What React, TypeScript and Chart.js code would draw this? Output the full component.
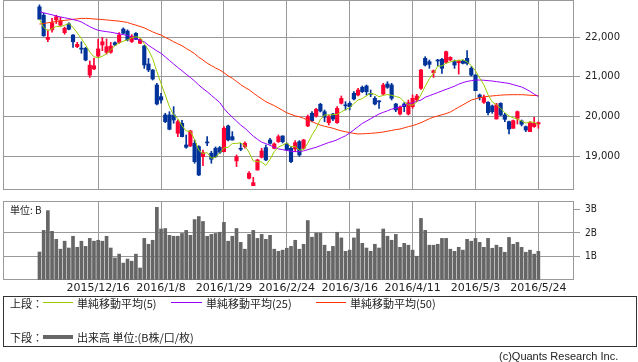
import React, { useEffect, useRef } from 'react';
import { Chart, registerables } from 'chart.js';

Chart.register(...registerables);

// ---- data ----
const tickIndex = [14, 29, 44, 59, 74, 89, 104, 119];
const tickLabels = ['2015/12/16', '2016/1/8', '2016/1/29', '2016/2/24', '2016/3/16', '2016/4/11', '2016/5/3', '2016/5/24'];
const priceTicks = [19000, 20000, 21000, 22000];
const volumeTicks = [0, 1, 2, 3];

const opens = [22760, 22550, 21940, 22180, 22430, 22300, 22110, 22330, 22050, 21756, 21710, 21715, 21040, 21195, 21520, 21800, 21615, 21615, 21857, 21866,
  22200, 22150, 21885, 22093, 21841, 21773, 21320, 21168, 20790, 20496, 20034, 20034, 20034, 19573, 19825, 19278, 19253, 19321, 19236, 18984,
  19345, 19070, 19195, 19211, 19110, 19757, 19488, 18875, 19185, 19236, 18440, 18253, 18648, 18968, 19211, 19404, 19195, 19362, 19505, 19304,
  19195, 19178, 19362, 19195, 19757, 20077, 20009, 20304, 20118, 19841, 20059, 19841, 20328, 20280, 20328, 20580, 20538, 20731, 20765, 20570,
  20454, 20380, 20563, 20815, 20790, 20311, 20059, 20311, 20059, 20244, 20412, 20706, 21462, 21378, 21101, 21410, 21437, 21361, 21420, 21378,
  21353, 21395, 21462, 21210, 21042, 20538, 20353, 20353, 20261, 19933, 20328, 20034, 19866, 19698, 19950, 19883, 19740, 19614, 19740, 19808];
const highs = [22810, 22600, 22180, 22470, 22550, 22500, 22250, 22360, 22060, 21866, 21880, 21740, 21395, 21460, 21950, 21990, 21950, 21865, 21880, 22110,
  22230, 22180, 22060, 22110, 21960, 21790, 21460, 21180, 20830, 20580, 20077, 20118, 20244, 19908, 19900, 19530, 19650, 19404, 19260, 19152,
  19488, 19120, 19230, 19240, 19740, 19780, 19614, 19026, 19321, 19360, 18606, 18464, 18918, 19195, 19278, 19447, 19330, 19530, 19510, 19330,
  19236, 19388, 19388, 19420, 20034, 20118, 20203, 20329, 20160, 20034, 20076, 20244, 20513, 20370, 20370, 20622, 20706, 20765, 20790, 20664,
  20496, 20395, 20832, 20874, 20832, 20328, 20261, 20345, 20412, 20538, 20555, 21185, 21504, 21420, 21168, 21437, 21462, 21647, 21504, 21420,
  21420, 21420, 21655, 21252, 21050, 20563, 20538, 20370, 20286, 20328, 20345, 20076, 19883, 19908, 20135, 19908, 19757, 19866, 19975, 19860];
const lows = [22440, 22020, 21880, 22120, 22340, 22280, 22070, 22180, 21740, 21730, 21590, 21400, 20980, 21175, 21495, 21655, 21570, 21590, 21782, 21840,
  22080, 21900, 21860, 21930, 21830, 21210, 21125, 20915, 20285, 20330, 19840, 19660, 19825, 19488, 19480, 19195, 19240, 18817, 18505, 18757,
  19261, 18817, 18960, 19060, 19100, 19380, 19400, 18732, 19135, 19200, 18422, 18250, 18640, 18950, 18880, 19300, 19180, 19340, 19330, 19135,
  18833, 19110, 18990, 19180, 19740, 19860, 19980, 20110, 19866, 19782, 19891, 19824, 20311, 20160, 20160, 20412, 20513, 20597, 20538, 20496,
  20286, 20202, 20538, 20706, 20412, 20118, 20034, 20118, 20034, 20202, 20370, 20681, 21269, 21210, 20983, 21269, 21084, 21336, 21403, 21210,
  21067, 21320, 21294, 21017, 20647, 20412, 20328, 20034, 20076, 19933, 20020, 19866, 19555, 19698, 19807, 19757, 19614, 19614, 19723, 19700];
const closes = [22450, 22030, 21990, 22360, 22510, 22410, 22220, 22195, 21880, 21816, 21695, 21420, 21290, 21275, 21700, 21880, 21755, 21770, 21800, 22050,
  22095, 21930, 22020, 21942, 21940, 21295, 21170, 20942, 20312, 20412, 19866, 19674, 19908, 19866, 19488, 19220, 19631, 18858, 18522, 19084,
  19330, 18918, 18984, 19094, 19699, 19404, 19404, 18984, 19170, 19321, 18565, 18328, 18900, 19127, 18900, 19321, 19304, 19488, 19362, 19152,
  18858, 19337, 19026, 19404, 19992, 19891, 20178, 20135, 19976, 19992, 19933, 20202, 20454, 20265, 20244, 20437, 20664, 20622, 20622, 20555,
  20311, 20365, 20790, 20731, 20454, 20160, 20227, 20244, 20345, 20454, 20513, 21168, 21294, 21311, 21151, 21395, 21210, 21630, 21487, 21294,
  21395, 21336, 21336, 21042, 20647, 20479, 20471, 20093, 20118, 20290, 20034, 19925, 19681, 19891, 20118, 19799, 19656, 19841, 19824, 19841];
const ma25 = [22640, 22610, 22585, 22560, 22530, 22505, 22485, 22465, 22440, 22415, 22380, 22320, 22260, 22210, 22170, 22150, 22135, 22120, 22100, 22080,
  22060, 22040, 22000, 21960, 21910, 21880, 21790, 21720, 21650, 21590, 21500, 21410, 21320, 21230, 21150, 21060, 20980, 20890, 20790, 20700,
  20620, 20530, 20440, 20350, 20200, 20080, 19980, 19880, 19780, 19700, 19600, 19500, 19420, 19350, 19310, 19270, 19220, 19180, 19160, 19140,
  19120, 19110, 19110, 19130, 19160, 19190, 19220, 19260, 19300, 19340, 19370, 19410, 19460, 19510, 19580, 19660, 19740, 19820, 19880, 19940,
  20000, 20060, 20100, 20140, 20180, 20210, 20240, 20280, 20310, 20340, 20380, 20410, 20480, 20520, 20560, 20600, 20640, 20680, 20720, 20760,
  20810, 20850, 20880, 20900, 20915, 20915, 20910, 20900, 20890, 20875, 20860, 20845, 20830, 20800, 20770, 20740, 20690, 20630, 20560, 20500];
const ma50 = [22327, 22340, 22358, 22375, 22392, 22405, 22418, 22432, 22445, 22458, 22468, 22470, 22465, 22455, 22448, 22440, 22430, 22420, 22410, 22400,
  22385, 22365, 22330, 22300, 22265, 22230, 22180, 22130, 22085, 22050, 21990, 21940, 21880, 21830, 21780, 21710, 21650, 21580, 21490, 21420,
  21340, 21280, 21220, 21168, 21100, 21020, 20960, 20880, 20800, 20730, 20670, 20590, 20510, 20440, 20370, 20320, 20270, 20210, 20150, 20090,
  20050, 20010, 19990, 19950, 19910, 19870, 19820, 19780, 19750, 19725, 19700, 19665, 19635, 19610, 19590, 19570, 19555, 19560, 19565, 19572,
  19580, 19590, 19605, 19625, 19645, 19665, 19680, 19710, 19740, 19765, 19800, 19840, 19890, 19940, 19980, 20010, 20040, 20070, 20110, 20170,
  20230, 20290, 20350, 20410, 20440, 20470, 20490, 20505, 20515, 20525, 20535, 20540, 20545, 20546, 20546, 20546, 20540, 20532, 20526, 20521];
const volumes = [1.19, 2.11, 2.95, 2.07, 1.73, 1.31, 1.65, 1.36, 1.86, 1.39, 1.65, 1.43, 1.77, 1.65, 1.69, 1.65, 1.86, 1.36, 0.94, 1.10,
  0.72, 0.89, 0.80, 1.10, 0.51, 1.77, 1.52, 1.69, 3.09, 2.17, 2.19, 1.90, 1.86, 1.86, 1.98, 2.11, 1.90, 2.57, 2.70, 2.49,
  1.86, 1.94, 1.98, 2.03, 2.45, 1.65, 1.86, 2.19, 1.60, 1.31, 1.94, 2.11, 1.77, 1.94, 1.73, 1.90, 1.31, 1.22, 1.27, 1.35,
  1.43, 1.69, 1.31, 1.52, 2.53, 1.82, 2.00, 2.00, 1.48, 1.22, 1.43, 2.03, 1.79, 1.22, 1.27, 1.79, 2.17, 1.56, 1.36, 1.22,
  1.52, 1.36, 2.17, 1.86, 1.69, 1.94, 1.39, 1.56, 1.48, 1.27, 1.01, 2.62, 2.11, 1.48, 1.48, 1.52, 1.77, 1.77, 1.31, 1.22,
  1.39, 1.27, 1.73, 1.65, 1.77, 1.60, 1.39, 1.77, 1.35, 1.48, 1.39, 1.18, 1.81, 1.52, 1.60, 1.39, 1.18, 1.27, 1.10, 1.22];

const ma5 = closes.map((_, i) => {
  const w = closes.slice(Math.max(0, i - 4), i + 1);
  return w.reduce((a, b) => a + b, 0) / w.length;
});

// ---- style ----
const X_MIN = -8.7;
const X_MAX = 127.5;
const UP = '#ff0033';
const DOWN = '#003399';
const GRID = '#999999';
const TEXT = '#222222';

const framePlugin = {
  id: 'frame',
  beforeDatasetsDraw(chart: any) {
    const { ctx, chartArea } = chart;
    const l = Math.round(chartArea.left) + 0.5;
    const t = Math.round(chartArea.top) + 0.5;
    const r = Math.round(chartArea.right) - 0.5;
    const b = Math.round(chartArea.bottom) - 0.5;
    ctx.save();
    ctx.strokeStyle = GRID;
    ctx.lineWidth = 1;
    ctx.strokeRect(l, t, r - l, b - t);
    ctx.restore();
  },
};

const zeroPad = (s: any) => {
  s.paddingTop = 0; s.paddingBottom = 0; s.paddingLeft = 0; s.paddingRight = 0;
};
const fixX = (s: any) => { s.min = X_MIN; s.max = X_MAX; };

export default function App() {
  const topRef = useRef<HTMLCanvasElement>(null);
  const volRef = useRef<HTMLCanvasElement>(null);

  useEffect(() => {
    const idx = closes.map((_, i) => i);
    const colors = idx.map((i) => (closes[i] >= opens[i] ? UP : DOWN));
    const xGrid = (s: any) => { s.ticks = tickIndex.map((v) => ({ value: v })); };

    const top = new Chart(topRef.current as HTMLCanvasElement, {
      type: 'bar',
      data: {
        datasets: [
          { type: 'line', data: idx.map((i) => ({ x: i, y: ma5[i] })), borderColor: '#99cc00', borderWidth: 1, pointRadius: 0, tension: 0, order: 0 } as any,
          { type: 'line', data: idx.map((i) => ({ x: i, y: ma25[i] })), borderColor: '#9900ff', borderWidth: 1, pointRadius: 0, tension: 0, order: 0 } as any,
          { type: 'line', data: idx.map((i) => ({ x: i, y: ma50[i] })), borderColor: '#ff3300', borderWidth: 1, pointRadius: 0, tension: 0, order: 0 } as any,
          { type: 'bar', data: idx.map((i) => ({ x: i, y: [lows[i], highs[i]] })), backgroundColor: colors, barThickness: 1, grouped: false, order: 2 } as any,
          { type: 'bar', data: idx.map((i) => ({ x: i, y: [opens[i], closes[i]] })), backgroundColor: colors, barThickness: 3.5, minBarLength: 1, grouped: false, order: 1 } as any,
        ],
      },
      options: {
        animation: false,
        responsive: false,
        maintainAspectRatio: false,
        layout: { padding: { left: 3, top: 0, right: 0, bottom: 2 } },
        plugins: { legend: { display: false }, tooltip: { enabled: false } },
        scales: {
          x: {
            type: 'linear', min: X_MIN, max: X_MAX, offset: false, bounds: 'data',
            grid: { color: GRID, drawTicks: false, offset: false },
            border: { display: false },
            ticks: { display: false },
            afterDataLimits: fixX,
            afterBuildTicks: (s: any) => { xGrid(s); fixX(s); },
            afterFit: (s: any) => { s.height = 0; zeroPad(s); },
          },
          y: {
            position: 'right', min: 18143, max: 22933,
            grid: { color: GRID, tickLength: 6 },
            border: { display: false },
            ticks: {
              color: TEXT, padding: 5,
              font: { family: 'DejaVu Sans', size: 10 },
              callback: (v: any) => Number(v).toLocaleString('en-US'),
            },
            afterBuildTicks: (s: any) => { s.ticks = priceTicks.map((v) => ({ value: v })); },
            afterFit: (s: any) => { s.width = 64; zeroPad(s); },
          },
        },
      } as any,
      plugins: [framePlugin],
    });

    const vol = new Chart(volRef.current as HTMLCanvasElement, {
      type: 'bar',
      data: {
        datasets: [
          { data: idx.map((i) => ({ x: i, y: volumes[i] })), backgroundColor: '#666666', barThickness: 3 } as any,
        ],
      },
      options: {
        animation: false,
        responsive: false,
        maintainAspectRatio: false,
        layout: { padding: { left: 3, top: 201, right: 0, bottom: 0 } },
        plugins: { legend: { display: false }, tooltip: { enabled: false } },
        scales: {
          x: {
            type: 'linear', min: X_MIN, max: X_MAX, offset: false, bounds: 'data',
            grid: { color: GRID, drawTicks: false, offset: false },
            border: { display: false },
            ticks: {
              color: TEXT, padding: 2, maxRotation: 0, autoSkip: false,
              font: { family: 'DejaVu Sans', size: 11 },
              callback: (v: any) => { const k = tickIndex.indexOf(Number(v)); return k >= 0 ? tickLabels[k] : ''; },
            },
            afterDataLimits: fixX,
            afterBuildTicks: (s: any) => { xGrid(s); fixX(s); },
            afterFit: (s: any) => { s.height = 20; zeroPad(s); },
          },
          y: {
            position: 'right', min: 0, max: 3.36,
            grid: {
              color: (c: any) => (c.tick && (c.tick.value === 1 || c.tick.value === 2) ? GRID : 'rgba(0,0,0,0)'),
              tickColor: (c: any) => (c.tick && c.tick.value > 0 ? GRID : 'rgba(0,0,0,0)'),
              tickLength: 6,
            },
            border: { display: false },
            ticks: {
              color: TEXT, padding: 5,
              font: { family: "'Liberation Sans Narrow', 'DejaVu Sans Condensed', sans-serif", size: 10 },
              callback: (v: any) => (Number(v) === 0 ? '' : `${v}B`),
            },
            afterBuildTicks: (s: any) => { s.ticks = volumeTicks.map((v) => ({ value: v })); },
            afterFit: (s: any) => { s.width = 64; zeroPad(s); },
          },
        },
      } as any,
      plugins: [framePlugin],
    });

    return () => { top.destroy(); vol.destroy(); };
  }, []);

  const jp = "'Noto Sans CJK JP', 'DejaVu Sans', sans-serif";
  const textStyle: React.CSSProperties = { position: 'absolute', fontFamily: jp, fontSize: 11, color: TEXT, lineHeight: '14px', whiteSpace: 'nowrap' };
  const lineStyle = (left: number, top: number, width: number, color: string, h: number): React.CSSProperties => ({
    position: 'absolute', left, top, width, height: h, background: color,
  });

  return (
    <div style={{ position: 'fixed', left: 0, top: 0, width: 638, height: 362, background: '#fff', overflow: 'hidden' }}>
      <canvas ref={topRef} width={638} height={192} style={{ position: 'absolute', left: 0, top: 0 }} />
      <canvas ref={volRef} width={638} height={300} style={{ position: 'absolute', left: 0, top: 0 }} />
      <div style={{ ...textStyle, left: 10, top: 203, fontSize: 10 }}>単位: B</div>
      <div style={{ position: 'absolute', left: 3, top: 296, width: 632, height: 49, border: '1px solid #333' }} />
      <div style={{ ...textStyle, left: 10, top: 296 }}>上段：</div>
      <div style={lineStyle(43, 302, 30, '#99cc00', 1)} />
      <div style={{ ...textStyle, left: 77, top: 296 }}>単純移動平均(5)</div>
      <div style={lineStyle(171, 302, 31, '#9900ff', 1)} />
      <div style={{ ...textStyle, left: 206, top: 296 }}>単純移動平均(25)</div>
      <div style={lineStyle(316, 302, 30, '#ff3300', 1)} />
      <div style={{ ...textStyle, left: 350, top: 296 }}>単純移動平均(50)</div>
      <div style={{ ...textStyle, left: 10, top: 330 }}>下段：</div>
      <div style={lineStyle(43, 335, 30, '#666666', 4)} />
      <div style={{ ...textStyle, left: 77, top: 330 }}>出来高 単位:(B株/口/枚)</div>
      <div style={{ ...textStyle, left: 499, top: 349, fontFamily: "'Liberation Sans', sans-serif" }}>(c)Quants Research Inc.</div>
    </div>
  );
}
